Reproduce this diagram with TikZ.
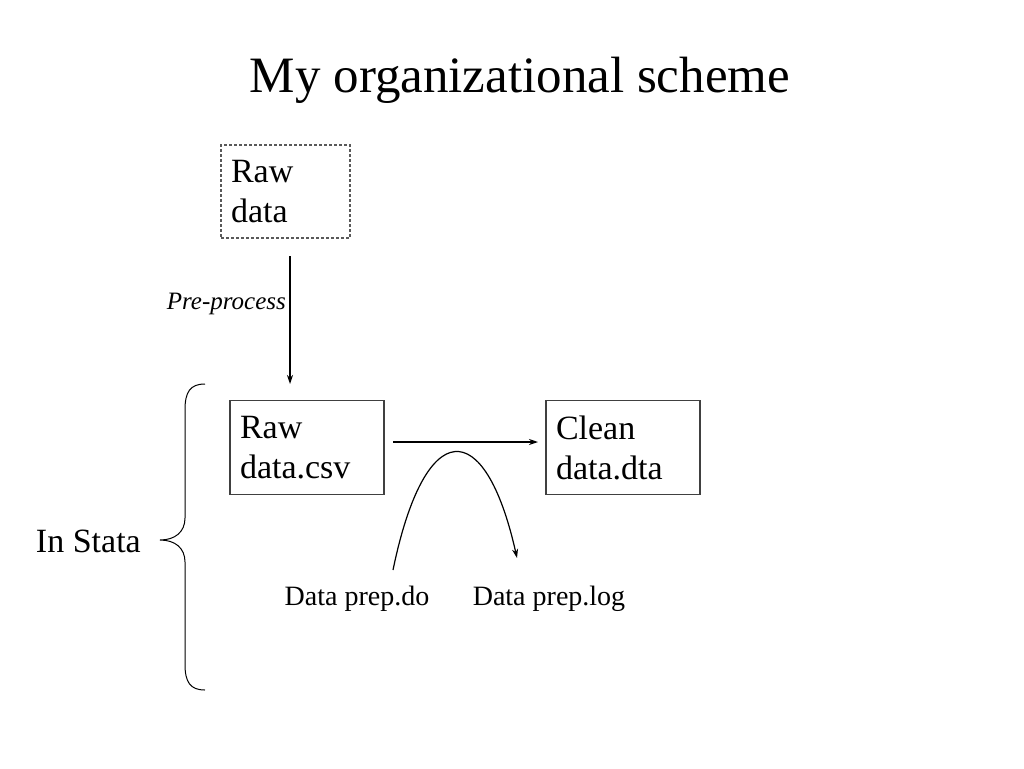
\documentclass[tikz,border=0pt]{standalone}
\usepackage{fontspec}
\setmainfont{Liberation Serif}
\usetikzlibrary{arrows.meta}
\begin{document}
\begin{tikzpicture}[x=1pt,y=-1pt,
  box/.style={draw=black!75, line width=1.1pt, minimum width=154pt, minimum height=94pt,
    inner xsep=10pt, inner ysep=0pt, text width=134pt, align=left,
    font=\fontsize{34}{40}\selectfont},
  dbox/.style={box, dash pattern=on 3pt off 2pt, draw=black!65, minimum width=129pt, minimum height=93pt, text width=109pt},
  lbl/.style={font=\fontsize{28}{32}\selectfont, inner sep=0pt},
  conn/.style={line width=1.2pt, -{Stealth[length=9pt,width=6pt]}}]
\useasboundingbox[fill=white] (0,0) rectangle (1024,768);
\node[font=\fontsize{51}{56}\selectfont, anchor=base] (title) at (520,92) {My organizational scheme};
\node[dbox] (raw) at (285.5,191.5) {Raw\\data};
\node[box] (csv) at (307,447.5) {Raw\\data.csv};
\node[box] (clean) at (623,447.5) {Clean\\data.dta};
\coordinate (pa) at (290,256);
\coordinate (pb) at (290,384);
\draw[conn] (pa) -- (pb);
\node[font=\fontsize{25}{28}\selectfont\itshape, inner sep=0pt, anchor=east] (pp) at (286,304) {Pre-process};
\coordinate (ha) at (393,442);
\coordinate (hb) at (538,442);
\draw[conn] (ha) -- (hb);
\node[lbl, anchor=base] (do) at (357,605) {Data prep.do};
\node[lbl, anchor=base] (log) at (549,605) {Data prep.log};
\coordinate (ca) at (393,570);
\coordinate (cb) at (517,558);
\draw[conn] (ca) .. controls (425,415) and (485,415) .. (cb);
\draw[line width=1pt] (205,384) .. controls (190,384) and (185,392) .. (185,410)
  -- (185,518) .. controls (185,532) and (175,540) .. (160,540)
  .. controls (175,540) and (185,548) .. (185,562)
  -- (185,664) .. controls (185,682) and (190,690) .. (205,690);
\node[font=\fontsize{34}{38}\selectfont, anchor=east, inner sep=0pt] (stata) at (141,541) {In Stata};
\end{tikzpicture}
\end{document}
